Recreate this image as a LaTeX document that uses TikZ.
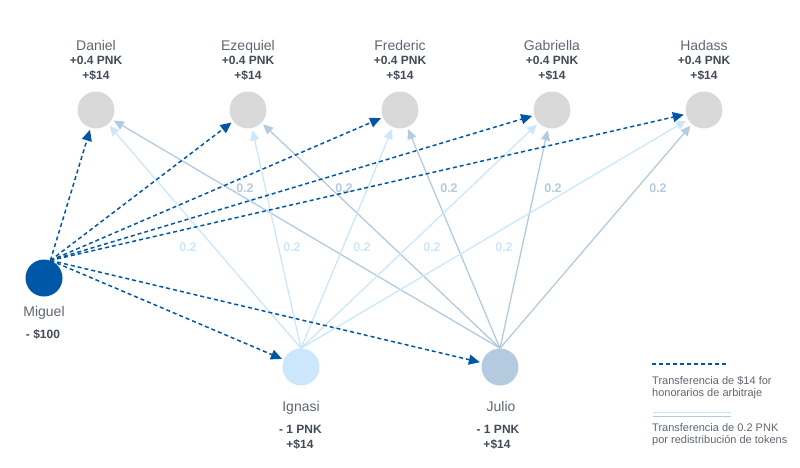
\documentclass[tikz,border=0pt]{standalone}
\usepackage{fontspec}
\setmainfont{Liberation Sans}
\usetikzlibrary{arrows.meta}

\definecolor{miguelblau}{HTML}{0057A8}
\definecolor{hellblau}{HTML}{CCE6FB}
\definecolor{graublau}{HTML}{B3CADF}
\definecolor{kreisgrau}{HTML}{D9D9D9}
\definecolor{namegrau}{HTML}{5F6671}
\definecolor{wertgrau}{HTML}{424A56}

\tikzset{
	person/.style={circle, minimum size=37pt, inner sep=0pt},
	rufname/.style={anchor=base, inner sep=0pt, text=namegrau,
		font=\fontsize{14}{16}\selectfont},
	wert/.style={anchor=base, inner sep=0pt, text=wertgrau,
		font=\bfseries\fontsize{12}{14}\selectfont},
	anteil/.style={inner sep=0pt, font=\bfseries\fontsize{12.5}{14}\selectfont},
	legende/.style={anchor=base west, inner sep=0pt, text=namegrau,
		font=\fontsize{11}{13}\selectfont},
	zahlung/.style={miguelblau, line width=1.5pt, dash pattern=on 4pt off 3pt,
		-{Triangle[length=11pt,width=10pt]}, shorten >=2pt},
	token/.style={line width=1.3pt, -{Triangle[length=10pt,width=9pt]},
		shorten >=2pt}
}

\begin{document}
\begin{tikzpicture}[x=1pt, y=-1pt]
	\useasboundingbox (0,0) rectangle (800,468);

	% Empfaenger oben
	\foreach \n/\name/\x in {dan/Daniel/96, eze/Ezequiel/248, fre/Frederic/400,
		gab/Gabriella/552, had/Hadass/704}{
		\node[person, fill=kreisgrau] (\n) at (\x,110) {};
		\node[rufname] (\n-name) at (\x,50.7) {\name};
		\node[wert] (\n-pnk) at (\x,64.3) {+0.4 PNK};
		\node[wert] (\n-usd) at (\x,79.3) {+\$14};
	}

	% Miguel
	\node[person, fill=miguelblau] (mig) at (44,278) {};
	\node[rufname] (mig-name) at (44,316.7) {Miguel};
	\node[wert] (mig-usd) at (43,338) {- \$100};

	% Ignasi und Julio
	\node[person, fill=hellblau] (ign) at (301,367) {};
	\node[rufname] (ign-name) at (301,411.7) {Ignasi};
	\node[wert] (ign-pnk) at (300.5,433) {- 1 PNK};
	\node[wert] (ign-usd) at (300,448.3) {+\$14};
	\node[person, fill=graublau] (jul) at (500,367) {};
	\node[rufname] (jul-name) at (501,411.7) {Julio};
	\node[wert] (jul-pnk) at (498,433) {- 1 PNK};
	\node[wert] (jul-usd) at (497,448.3) {+\$14};

	% Token-Umverteilung
	\foreach \n in {dan,eze,fre,gab,had}{
		\draw[token, hellblau] (ign.north) -- (\n);
		\draw[token, graublau] (jul.north) -- (\n);
	}
	\foreach \i/\x in {1/188, 2/292, 3/362, 4/432, 5/504}
		\node[anteil, text=hellblau] (ign-a\i) at (\x,247) {0.2};
	\foreach \i/\x in {1/245, 2/344, 3/449, 4/553, 5/658}
		\node[anteil, text=graublau] (jul-a\i) at (\x,188) {0.2};

	% Gebuehren
	\foreach \n in {dan,eze,fre,gab,had,ign,jul}
		\draw[zahlung] (mig.70) -- (\n);

	% Legende
	\coordinate (leg1a) at (652,364);
	\coordinate (leg1b) at (728,364);
	\draw[miguelblau, line width=1.5pt, dash pattern=on 4pt off 3pt] (leg1a) -- (leg1b);
	\node[legende] (leg1t) at (652,384) {Transferencia de \$14 for};
	\node[legende] (leg1u) at (652,396.3) {honorarios de arbitraje};
	\coordinate (leg2a) at (652.7,412.7);
	\coordinate (leg2b) at (730.7,412.7);
	\coordinate (leg3a) at (652.7,416.5);
	\coordinate (leg3b) at (730.7,416.5);
	\draw[hellblau, line width=1.5pt] (leg2a) -- (leg2b);
	\draw[graublau, line width=1.5pt] (leg3a) -- (leg3b);
	\node[legende] (leg2t) at (652,431.7) {Transferencia de 0.2 PNK};
	\node[legende] (leg2u) at (652,443.7) {por redistribución de tokens};
\end{tikzpicture}
\end{document}
